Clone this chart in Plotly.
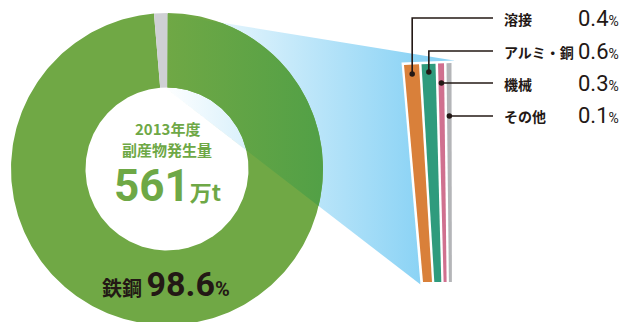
import numpy as np
import plotly.graph_objects as go

# ---------------- data ----------------
year_label = "2013年度"
total_label = "副産物発生量"
total_value = "561"
total_unit = "万t"
main_name = "鉄鋼"
main_share = 98.6
other_share = 1.4
detail_names = ["溶接", "アルミ・銅", "機械", "その他"]
detail_shares = [0.4, 0.6, 0.3, 0.1]

# ---------------- styles ----------------
W, H = 624, 322
JP = "Noto Sans CJK JP"
NUM = "Roboto"
DARK = "#231815"
GREEN = "#70a845"
GREEN_DARK = "#52a046"
GREEN_TXT = "#6ea846"
GREY_SLICE = "#cfd0d4"
BLUE = "#8bd3f5"
SEG_COLORS = ["#d9803a", "#2f9b7d", "#d0708f", "#b4b5b8"]

CX, CY, R_OUT, R_IN = 167, 169, 156, 81.5
START_ANGLE = -4.8

# tilted detail bar (decorative geometry)
BAR_X0_TOP, BAR_X0_BOT = 404, 423
TOP_W = [15, 14, 6, 5]
BOT_W = [9, 7, 3, 3]
GAP_TOP, GAP_BOT = 2.5, 2.3
BAR_TOP_Y_LEFT, BAR_TOP_Y_RIGHT, BAR_BOT_Y = 65, 63, 282
BORDER = 2.5
DOT_Y = [74, 72, 83, 116]
LINE_Y = [18, 51, 83, 116]
LINE_END_X = 493
LABEL_X = 502
VALUE_X = 621


def pt(angle_deg, r):
    t = np.radians(angle_deg)
    return CX + r * np.sin(t), CY - r * np.cos(t)


def sector(a0, a1, n=240):
    t = np.linspace(a0, a1, n)
    xo, yo = pt(t, R_OUT)
    xi, yi = pt(t[::-1], R_IN)
    return list(zip(np.r_[xo, xi], np.r_[yo, yi]))


def clip(subject, cpoly):
    cxp = np.mean([p[0] for p in cpoly])
    cyp = np.mean([p[1] for p in cpoly])
    out = subject
    n = len(cpoly)
    for i in range(n):
        a, b = cpoly[i], cpoly[(i + 1) % n]

        def side(p, a=a, b=b):
            return (b[0] - a[0]) * (p[1] - a[1]) - (b[1] - a[1]) * (p[0] - a[0])

        sref = side((cxp, cyp))
        inside = lambda p: side(p) * sref >= 0

        def inter(p, q):
            sp, sq = side(p), side(q)
            t = sp / (sp - sq)
            return (p[0] + t * (q[0] - p[0]), p[1] + t * (q[1] - p[1]))

        inp, out = out, []
        if not inp:
            break
        prev = inp[-1]
        for cur in inp:
            if inside(cur):
                if not inside(prev):
                    out.append(inter(prev, cur))
                out.append(cur)
            elif inside(prev):
                out.append(inter(prev, cur))
            prev = cur
    return out


def closed(poly):
    xs = [p[0] for p in poly] + [poly[0][0]]
    ys = [p[1] for p in poly] + [poly[0][1]]
    return xs, ys


fig = go.Figure()

# ----- donut angles from data -----
shares = [other_share, main_share]
bounds = START_ANGLE + np.cumsum([0] + shares) / sum(shares) * 360
grey_poly = sector(bounds[0], bounds[1], 20)
green_poly = sector(bounds[1], bounds[2], 400)

# ----- bar geometry -----
def top_y(x):
    span = (BAR_X0_TOP + sum(TOP_W) + GAP_TOP * 3) - BAR_X0_TOP
    return BAR_TOP_Y_LEFT + (BAR_TOP_Y_RIGHT - BAR_TOP_Y_LEFT) * (x - BAR_X0_TOP) / span

segs = []
xt, xb = BAR_X0_TOP, BAR_X0_BOT
for i in range(len(detail_shares)):
    segs.append((xt, xt + TOP_W[i], xb, xb + BOT_W[i]))
    xt += TOP_W[i] + GAP_TOP
    xb += BOT_W[i] + GAP_BOT
bar_right = max(s[1] for s in segs)
outline = [
    (segs[0][0] - BORDER, top_y(segs[0][0]) - BORDER),
    (bar_right + BORDER, top_y(bar_right) - BORDER),
    (bar_right + BORDER, BAR_BOT_Y + BORDER),
    (segs[0][2] - BORDER, BAR_BOT_Y + BORDER),
]

# ----- blue fan from grey slice to bar -----
fan_angle = bounds[0] + 0.65 * (bounds[1] - bounds[0])
A = pt(fan_angle, R_OUT)
D = pt(fan_angle, R_IN)
B = (outline[1][0], outline[1][1])
C = (outline[3][0], outline[3][1])
quad = [A, B, C, D]
qx, qy = closed(quad)
fig.add_trace(go.Scatter(
    x=qx, y=qy, mode="lines", line=dict(width=0), fill="toself",
    fillgradient=dict(type="horizontal", colorscale=[[0, "#ffffff"], [1, BLUE]],
                      start=A[0], stop=C[0]),
    hoverinfo="skip"))

# ----- donut -----
for poly, col in [(green_poly, GREEN), (grey_poly, GREY_SLICE)]:
    xs, ys = closed(poly)
    fig.add_trace(go.Scatter(x=xs, y=ys, mode="lines", line=dict(width=0),
                             fill="toself", fillcolor=col, hoverinfo="skip"))

# overlay of fan on ring
ov = clip(green_poly, quad)
if ov:
    xs, ys = closed(ov)
    fig.add_trace(go.Scatter(
        x=xs, y=ys, mode="lines", line=dict(width=0), fill="toself",
        fillgradient=dict(type="horizontal", colorscale=[[0, GREEN], [1, GREEN_DARK]],
                          start=A[0], stop=CX + R_OUT),
        hoverinfo="skip"))

# ----- bar -----
xs, ys = closed(outline)
fig.add_trace(go.Scatter(x=xs, y=ys, mode="lines", line=dict(width=0),
                         fill="toself", fillcolor="white", hoverinfo="skip"))
for (xt0, xt1, xb0, xb1), col in zip(segs, SEG_COLORS):
    poly = [(xt0, top_y(xt0)), (xt1, top_y(xt1)), (xb1, BAR_BOT_Y), (xb0, BAR_BOT_Y)]
    xs, ys = closed(poly)
    fig.add_trace(go.Scatter(x=xs, y=ys, mode="lines", line=dict(width=0),
                             fill="toself", fillcolor=col, hoverinfo="skip"))

# ----- leader lines -----
for i, (xt0, xt1, xb0, xb1) in enumerate(segs):
    yd = DOT_Y[i]
    ytop = top_y((xt0 + xt1) / 2)
    f = (yd - ytop) / (BAR_BOT_Y - ytop)
    xl = xt0 + (xb0 - xt0) * f
    xr = xt1 + (xb1 - xt1) * f
    xd = (xl + xr) / 2
    if LINE_Y[i] < yd - 2:
        lx, ly = [xd, xd, LINE_END_X], [yd, LINE_Y[i], LINE_Y[i]]
    else:
        lx, ly = [xd, LINE_END_X], [yd, yd]
    fig.add_trace(go.Scatter(x=lx, y=ly, mode="lines", line=dict(color=DARK, width=1.6),
                             hoverinfo="skip"))
    fig.add_trace(go.Scatter(x=[xd], y=[yd], mode="markers",
                             marker=dict(color=DARK, size=5.5), hoverinfo="skip"))

# ----- texts -----
ann = []
ann.append(dict(x=CX, y=128, text=year_label,
                font=dict(family=JP, size=15, color=GREEN_TXT, weight="bold")))
ann.append(dict(x=CX, y=149, text=total_label,
                font=dict(family=JP, size=15, color=GREEN_TXT, weight="bold")))
ann.append(dict(x=CX, y=186,
                text=f"{total_value}<span style='font-family:{JP};font-size:22px'>{total_unit}</span>",
                font=dict(family=NUM, size=44, color=GREEN_TXT, weight="bold")))
ann.append(dict(x=100, y=284, xanchor="left",
                text=f"{main_name} <span style='font-family:{NUM};font-size:34px'>{main_share}</span>"
                     f"<span style='font-family:{NUM};font-size:20px'>%</span>",
                font=dict(family=JP, size=20, color=DARK, weight="bold")))
label_y = [19, 52, 84, 116]
for name, share, yy in zip(detail_names, detail_shares, label_y):
    ann.append(dict(x=LABEL_X, y=yy, xanchor="left", text=name,
                    font=dict(family=JP, size=14, color=DARK, weight="bold")))
    ann.append(dict(x=VALUE_X, y=yy - 1, xanchor="right",
                    text=f"{share}<span style='font-size:14px'>%</span>",
                    font=dict(family=NUM, size=22, color=DARK)))
for a in ann:
    a.setdefault("xanchor", "center")
    a.update(xref="x", yref="y", showarrow=False, yanchor="middle")

fig.update_layout(
    width=W, height=H, autosize=False,
    margin=dict(l=0, r=0, t=0, b=0),
    paper_bgcolor="white", plot_bgcolor="white",
    showlegend=False, annotations=ann,
    xaxis=dict(range=[0, W], visible=False, fixedrange=True),
    yaxis=dict(range=[H, 0], visible=False, fixedrange=True),
)
fig.write_html("out.html", config={"displayModeBar": False})
